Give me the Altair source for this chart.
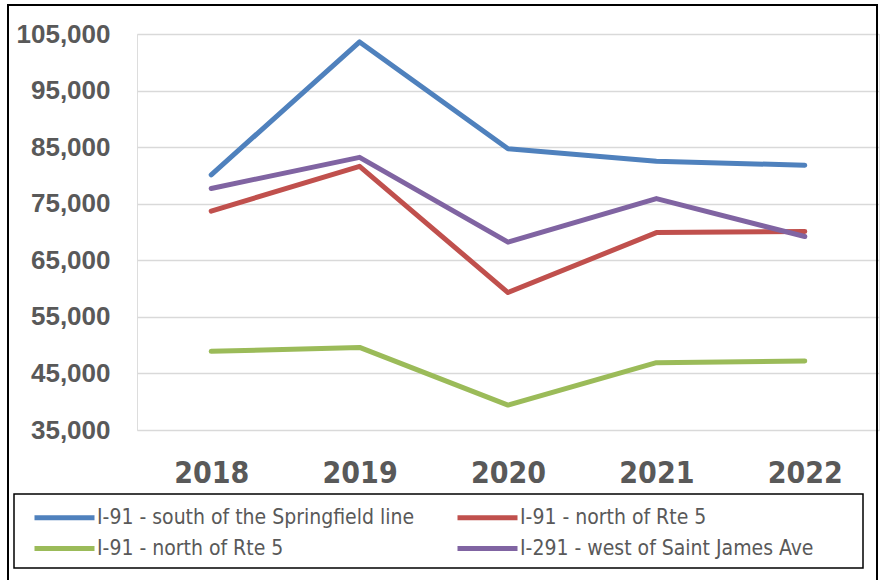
import json
import altair as alt
import pandas as pd

# Annual traffic counts by count station
years = ["2018", "2019", "2020", "2021", "2022"]
series_names = [
    "I-91 - south of the Springfield line",
    "I-91 - north of Rte 5",
    "I-91 - north of Rte 5",
    "I-291 - west of Saint James Ave",
]
series_colors = ["#4F81BD", "#C0504D", "#9BBB59", "#8064A2"]
south_springfield = [80100, 103600, 84700, 82500, 81800]
north_rte5_a = [73700, 81600, 59300, 69900, 70100]
north_rte5_b = [48900, 49600, 39400, 46900, 47200]
west_saint_james = [77700, 83200, 68200, 75900, 69200]
y_ticks = [35000, 45000, 55000, 65000, 75000, 85000, 95000, 105000]

values = [south_springfield, north_rte5_a, north_rte5_b, west_saint_james]
keys = [f"s{i}" for i in range(len(series_names))]

rows = []
for key, vals in zip(keys, values):
    for yr, v in zip(years, vals):
        rows.append({"year": yr, "series": key, "count": v})
df = pd.DataFrame(rows)

label_expr = f"{json.dumps(series_names)}[indexof({json.dumps(keys)}, datum.label)]"

PLOT_W, PLOT_H = 742, 396
LEFT, TOP = 137, 34

narrow = "Liberation Sans Narrow, DejaVu Sans Condensed, sans-serif"
gray = "#595959"

lines = alt.Chart(df).mark_line(strokeWidth=5, strokeCap="round", strokeJoin="round").encode(
    x=alt.X("year:O", sort=years, scale=alt.Scale(padding=0.5),
            axis=alt.Axis(title=None, labelAngle=0, domain=False, ticks=False, grid=False,
                          labelFont=narrow, labelFontWeight="bold", labelFontSize=30,
                          labelColor=gray, labelPadding=28)),
    y=alt.Y("count:Q", scale=alt.Scale(domain=[35000, 105000], nice=False, zero=False),
            axis=alt.Axis(title=None, values=y_ticks, format=",.0f", domain=False, ticks=False,
                          grid=True, gridColor="#D9D9D9", gridWidth=1.5,
                          labelFont="Liberation Sans, Arial, sans-serif", labelFontWeight="bold",
                          labelFontSize=26, labelColor=gray, labelPadding=27)),
    color=alt.Color("series:N", sort=keys,
                    scale=alt.Scale(domain=keys, range=series_colors),
                    legend=alt.Legend(title=None, orient="none", legendX=52 - LEFT, legendY=505 - TOP,
                                      direction="horizontal", columns=2, columnPadding=32, rowPadding=8,
                                      symbolType="M-3,0L3,0", symbolSize=400, symbolStrokeWidth=5,
                                      labelExpr=label_expr, labelFont=narrow, labelFontSize=21,
                                      labelColor=gray, labelOffset=20, labelLimit=0, padding=0)),
)

# Outer chart frame and legend box
frame = alt.Chart(pd.DataFrame({"k": [0]})).mark_rect(
    fill=None, stroke="black", strokeWidth=2
).encode(
    x=alt.value(8 - LEFT), x2=alt.value(877 - LEFT),
    y=alt.value(5 - TOP), y2=alt.value(600 - TOP),
)
legend_box = alt.Chart(pd.DataFrame({"k": [0]})).mark_rect(
    fill=None, stroke="black", strokeWidth=1.5
).encode(
    x=alt.value(14 - LEFT), x2=alt.value(863 - LEFT),
    y=alt.value(494 - TOP), y2=alt.value(568 - TOP),
)

chart = alt.layer(lines, legend_box, frame).properties(
    width=PLOT_W, height=PLOT_H,
    autosize=alt.AutoSizeParams(type="none"),
    padding={"left": LEFT, "top": TOP, "right": 882 - LEFT - PLOT_W, "bottom": 580 - TOP - PLOT_H},
).configure_view(stroke=None).configure(background="white")

chart.save("out.html", embed_options={"renderer": "svg", "actions": False})
